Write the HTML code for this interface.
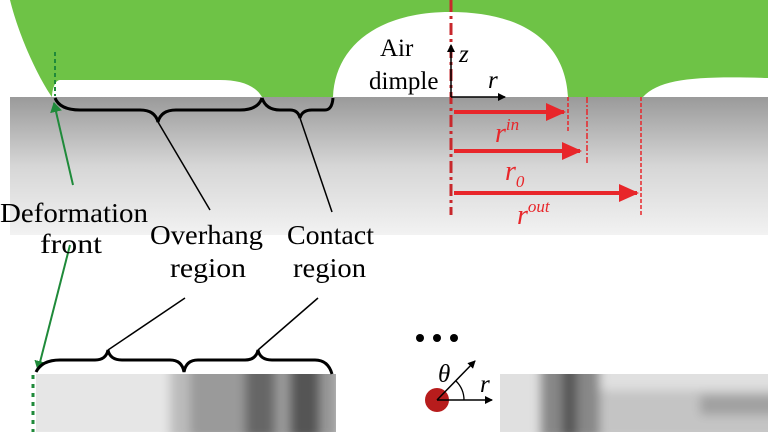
<!DOCTYPE html>
<html><head><meta charset="utf-8"><style>
html,body{margin:0;padding:0;background:#fff;}
svg{display:block;}
text{font-family:"Liberation Serif",serif;}
</style></head><body>
<svg width="768" height="432" viewBox="0 0 768 432" xmlns="http://www.w3.org/2000/svg">
<defs>
<linearGradient id="g" x1="0" y1="0" x2="0" y2="1">
<stop offset="0" stop-color="#9a9a9a"/><stop offset="0.5" stop-color="#d6d6d6"/><stop offset="1" stop-color="#f2f2f2"/>
</linearGradient>
<filter id="bl" x="-20%" y="-50%" width="140%" height="200%"><feGaussianBlur stdDeviation="5"/></filter>
<clipPath id="cp"><rect x="36" y="374" width="300" height="58"/><rect x="500" y="374" width="268" height="58"/></clipPath>
<marker id="ar" markerWidth="20" markerHeight="18" refX="18" refY="9" orient="auto" markerUnits="userSpaceOnUse"><path d="M0,0 L20,9 L0,18 Z" fill="#e8262a"/></marker>
<marker id="ak" markerWidth="8" markerHeight="8" refX="7" refY="4" orient="auto" markerUnits="userSpaceOnUse"><path d="M0,0 L8,4 L0,8 Z" fill="#000"/></marker>
<marker id="ag" markerWidth="10" markerHeight="12" refX="9" refY="6" orient="auto" markerUnits="userSpaceOnUse"><path d="M0,0 L10,6 L0,12 Z" fill="#1f8a3a"/></marker>
</defs>
<rect x="10" y="97" width="758" height="138" fill="url(#g)"/>
<path d="M10,0 L768,0 L768,78 C700,76 660,78 643,97 L568,97 C565,40 520,12 450,12 C380,12 335,45 333,97 L262,97 C255,85 240,80 220,80 L60,80 C55,80 52,90 52,97 C40,80 20,40 10,0 Z" fill="#6ec346"/>
<g clip-path="url(#cp)">
<g filter="url(#bl)">
<rect x="20" y="360" width="330" height="80" fill="#e6e6e6"/>
<rect x="170" y="360" width="70" height="80" fill="#bbb"/>
<rect x="190" y="360" width="150" height="80" fill="#9a9a9a"/>
<rect x="245" y="360" width="30" height="80" fill="#666"/>
<rect x="290" y="360" width="30" height="80" fill="#555"/>
<rect x="490" y="360" width="290" height="80" fill="#e0e0e0"/>
<rect x="540" y="360" width="60" height="80" fill="#888"/>
<rect x="562" y="360" width="15" height="80" fill="#555"/>
<rect x="600" y="390" width="180" height="50" fill="#c4c4c4"/>
<rect x="700" y="395" width="80" height="20" fill="#a0a0a0"/>
</g>
</g>
<line x1="55" y1="52" x2="55" y2="96" stroke="#1f8a3a" stroke-width="2" stroke-dasharray="4,3"/>
<line x1="73" y1="185" x2="54" y2="103" stroke="#1f8a3a" stroke-width="2" marker-end="url(#ag)"/>
<line x1="70" y1="245" x2="38" y2="370" stroke="#1f8a3a" stroke-width="2" marker-end="url(#ag)"/>
<line x1="33" y1="375" x2="33" y2="432" stroke="#1f8a3a" stroke-width="3" stroke-dasharray="4,5"/>
<path d="M55,98 Q60,110 80,110 L140,110 Q155,110 158,122 Q161,110 176,110 L240,110 Q258,110 262,98" fill="none" stroke="#000" stroke-width="3"/>
<path d="M262,98 Q266,110 280,110 L290,110 Q298,110 300,118 Q302,110 312,110 L325,110 Q332,110 333,98" fill="none" stroke="#000" stroke-width="3"/>
<line x1="158" y1="122" x2="210" y2="210" stroke="#000" stroke-width="1.5"/>
<line x1="300" y1="118" x2="332" y2="212" stroke="#000" stroke-width="1.5"/>
<path d="M36,372 Q42,360 60,360 L95,360 Q106,360 108,350 Q110,360 122,360 L170,360 Q182,360 184,372 Q186,360 198,360 L245,360 Q256,360 258,350 Q260,360 272,360 L315,360 Q328,360 332,374" fill="none" stroke="#000" stroke-width="3"/>
<line x1="108" y1="350" x2="185" y2="298" stroke="#000" stroke-width="1.5"/>
<line x1="258" y1="350" x2="318" y2="298" stroke="#000" stroke-width="1.5"/>
<line x1="451" y1="0" x2="451" y2="215" stroke="#c8282c" stroke-width="3" stroke-dasharray="12,4,3,4"/>
<line x1="568" y1="97" x2="568" y2="133" stroke="#e8262a" stroke-width="1.5" stroke-dasharray="4,2"/>
<line x1="587" y1="97" x2="587" y2="165" stroke="#e8262a" stroke-width="1.5" stroke-dasharray="6,2,2,2"/>
<line x1="641" y1="97" x2="641" y2="215" stroke="#e8262a" stroke-width="1.5" stroke-dasharray="4,2"/>
<line x1="454" y1="112" x2="564" y2="112" stroke="#e8262a" stroke-width="4" marker-end="url(#ar)"/>
<line x1="454" y1="151" x2="580" y2="151" stroke="#e8262a" stroke-width="4" marker-end="url(#ar)"/>
<line x1="454" y1="193" x2="637" y2="193" stroke="#e8262a" stroke-width="4" marker-end="url(#ar)"/>
<text x="495" y="142" font-size="28" font-style="italic" fill="#e8262a">r<tspan font-size="17" dy="-12">in</tspan></text>
<text x="505" y="180" font-size="28" font-style="italic" fill="#e8262a">r<tspan font-size="17" dy="7">0</tspan></text>
<text x="517" y="224" font-size="28" font-style="italic" fill="#e8262a">r<tspan font-size="17" dy="-12">out</tspan></text>
<line x1="451" y1="97" x2="451" y2="45" stroke="#000" stroke-width="1.5" marker-end="url(#ak)"/>
<line x1="451" y1="97" x2="505" y2="97" stroke="#000" stroke-width="1.5" marker-end="url(#ak)"/>
<text x="459" y="62" font-size="25" font-style="italic">z</text>
<text x="488" y="88" font-size="25" font-style="italic">r</text>
<text x="380" y="56" font-size="25">Air</text>
<text x="369" y="89" font-size="25">dimple</text>
<text x="0" y="222" font-size="27" textLength="148" lengthAdjust="spacingAndGlyphs">Deformation</text>
<text x="40" y="253" font-size="27" textLength="62" lengthAdjust="spacingAndGlyphs">front</text>
<text x="150" y="244" font-size="27" textLength="113" lengthAdjust="spacingAndGlyphs">Overhang</text>
<text x="170" y="277" font-size="27" textLength="76" lengthAdjust="spacingAndGlyphs">region</text>
<text x="287" y="244" font-size="27" textLength="87" lengthAdjust="spacingAndGlyphs">Contact</text>
<text x="293" y="277" font-size="27" textLength="73" lengthAdjust="spacingAndGlyphs">region</text>
<circle cx="420" cy="338" r="4" fill="#000"/><circle cx="437" cy="338" r="4" fill="#000"/><circle cx="454" cy="338" r="4" fill="#000"/>
<circle cx="437" cy="400" r="12" fill="#b71c1c"/>
<line x1="437" y1="400" x2="492" y2="400" stroke="#000" stroke-width="1.5" marker-end="url(#ak)"/>
<line x1="437" y1="400" x2="475" y2="361" stroke="#000" stroke-width="1.5" marker-end="url(#ak)"/>
<path d="M464,400 A27,27 0 0 0 456,381" fill="none" stroke="#000" stroke-width="1.3"/>
<text x="438" y="382" font-size="25" font-style="italic">θ</text>
<text x="480" y="392" font-size="25" font-style="italic">r</text>
</svg>
</body></html>
